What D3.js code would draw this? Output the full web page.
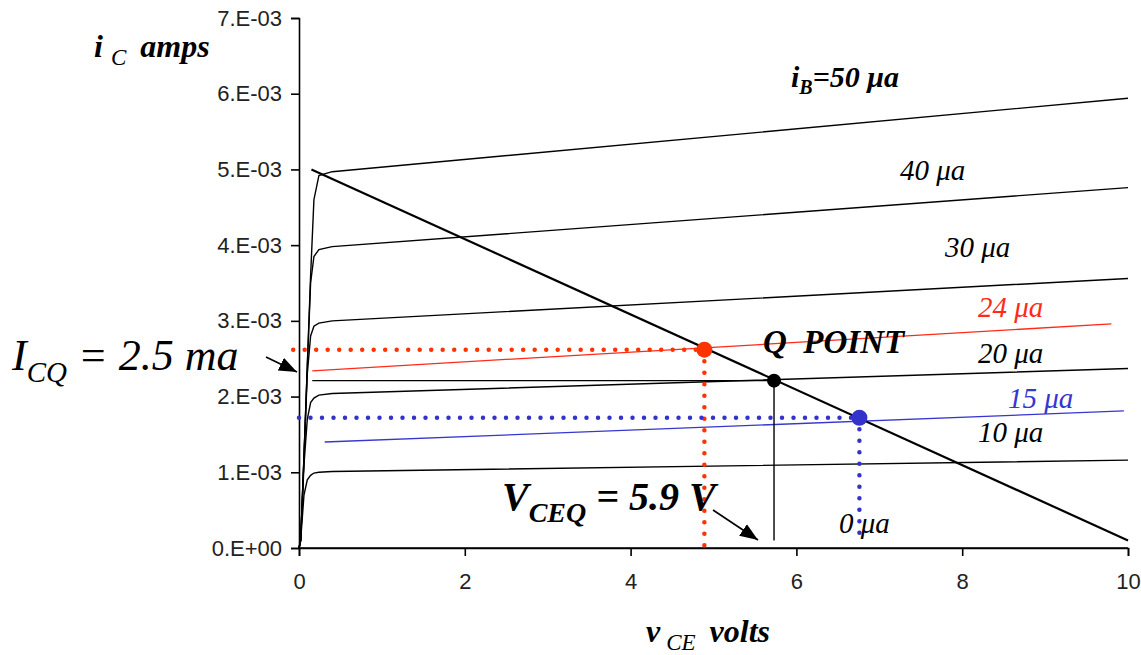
<!DOCTYPE html>
<html>
<head>
<meta charset="utf-8">
<script src="https://cdn.jsdelivr.net/npm/d3@7"></script>
<style>
  body { margin: 0; background: #fff; }
  svg { display: block; }
  .tick text { font-family: "Liberation Sans", Arial, sans-serif; font-size: 22px; fill: #222; }
  .lbl { font-family: "Liberation Serif", "Times New Roman", serif; font-style: italic; }
</style>
</head>
<body>
<div id="chart"></div>
<script>
const width = 1141, height = 655;

// collector-emitter voltage samples shared by the iB curves (volts)
const vce = [0, 0.02, 0.06, 0.1, 0.14, 0.18, 0.24, 0.4, 10];
// collector current, mA, one array per base current
const ib50 = [0, 0.1, 1.2, 2.4, 3.6, 4.6, 4.92, 4.97, 5.94];
const ib40 = [0, 0.1, 1.2, 2.4, 3.5, 3.85, 3.94, 3.98, 4.76];
const ib30 = [0, 0.1, 1.2, 2.3, 2.8, 2.93, 2.97, 3.0, 3.56];
const ib20 = [0, 0.1, 1.1, 1.7, 1.92, 1.98, 2.02, 2.04, 2.37];
const ib10 = [0, 0.1, 0.7, 0.9, 0.96, 0.99, 1.0, 1.01, 1.16];
const ib0  = [0, 0, 0, 0, 0, 0, 0, 0, 0];

// straight-line curves for 24 and 15 µa  [vce, mA]
const ib24 = [[0.16, 2.34], [9.8, 2.96]];
const ib15 = [[0.31, 1.40], [9.95, 1.81]];
// load line
const loadLine = [[0.15, 5.0], [10, 0.1]];

// operating points [vce, mA]
const qPoint = [5.73, 2.21];
const redPoint = [4.89, 2.62];
const bluePoint = [6.76, 1.72];

const xTicks = [0, 2, 4, 6, 8, 10];
const yTicks = [0, 1, 2, 3, 4, 5, 6, 7];
const yTickLabels = ["0.E+00", "1.E-03", "2.E-03", "3.E-03", "4.E-03", "5.E-03", "6.E-03", "7.E-03"];

const x = d3.scaleLinear().domain([0, 10]).range([299, 1128]);
const y = d3.scaleLinear().domain([0, 7]).range([548, 18]);

const svg = d3.select("#chart").append("svg")
    .attr("width", width)
    .attr("height", height);

svg.append("defs").append("marker")
    .attr("id", "arrow")
    .attr("markerUnits", "userSpaceOnUse")
    .attr("markerWidth", 20)
    .attr("markerHeight", 20)
    .attr("viewBox", "0 0 20 20")
    .attr("refX", 18)
    .attr("refY", 10)
    .attr("orient", "auto")
    .append("path")
    .attr("d", "M0,3L18,10L0,17Z")
    .attr("fill", "#000");

// axes
svg.append("g")
    .attr("transform", `translate(0,${y(0)})`)
    .call(d3.axisBottom(x).tickValues(xTicks).tickSize(8).tickPadding(17).tickFormat(d3.format("d")))
    .call(g => g.select(".domain").attr("stroke-width", 1.6))
    .call(g => g.selectAll(".tick line").attr("stroke-width", 1.6));

svg.append("g")
    .attr("transform", `translate(${x(0)},0)`)
    .call(d3.axisLeft(y).tickValues(yTicks).tickSize(8).tickPadding(9).tickFormat((d, i) => yTickLabels[i]))
    .call(g => g.select(".domain").attr("stroke-width", 1.6))
    .call(g => g.selectAll(".tick line").attr("stroke-width", 1.6));

const line = d3.line().x(d => x(d[0])).y(d => y(d[1]));

// iB family
const curves = [ib50, ib40, ib30, ib20, ib10, ib0];
svg.append("g")
    .selectAll("path")
    .data(curves)
    .join("path")
    .attr("d", c => line(c.map((v, i) => [vce[i], v])))
    .attr("fill", "none")
    .attr("stroke", "#000")
    .attr("stroke-width", 1.4);

svg.append("path").attr("d", line(ib24))
    .attr("fill", "none").attr("stroke", "#ff2a1a").attr("stroke-width", 1.3);
svg.append("path").attr("d", line(ib15))
    .attr("fill", "none").attr("stroke", "#3636d0").attr("stroke-width", 1.3);

// Q point guides
svg.append("path").attr("d", line([[0.16, qPoint[1]], qPoint]))
    .attr("fill", "none").attr("stroke", "#000").attr("stroke-width", 1.4);
svg.append("path").attr("d", line([qPoint, [qPoint[0], 0.1]]))
    .attr("fill", "none").attr("stroke", "#000").attr("stroke-width", 1.4);

// dotted guides
const dotted = (pts, color) => svg.append("path")
    .attr("d", line(pts))
    .attr("fill", "none")
    .attr("stroke", color)
    .attr("stroke-width", 4.5)
    .attr("stroke-linecap", "round")
    .attr("stroke-dasharray", "0 11.5");
dotted([[-0.07, redPoint[1]], redPoint], "#ff3300");
dotted([redPoint, [redPoint[0], 0]], "#ff3300");
dotted([[0, bluePoint[1]], bluePoint], "#3333cc");
dotted([bluePoint, [bluePoint[0], 0.1]], "#3333cc");

// load line
svg.append("path").attr("d", line(loadLine))
    .attr("fill", "none").attr("stroke", "#000").attr("stroke-width", 2.2);

// points
svg.append("circle").attr("cx", x(redPoint[0])).attr("cy", y(redPoint[1])).attr("r", 8).attr("fill", "#ff3300");
svg.append("circle").attr("cx", x(qPoint[0])).attr("cy", y(qPoint[1])).attr("r", 7).attr("fill", "#000");
svg.append("circle").attr("cx", x(bluePoint[0])).attr("cy", y(bluePoint[1])).attr("r", 8).attr("fill", "#3333cc");

// axis titles
const yTitle = svg.append("text").attr("class", "lbl").attr("x", 94).attr("y", 57)
    .attr("font-size", 32).attr("font-weight", "bold");
yTitle.append("tspan").text("i");
yTitle.append("tspan").attr("dx", 8).attr("dy", 8).attr("font-size", 23).attr("font-weight", "normal").text("C");
yTitle.append("tspan").attr("dx", 14).attr("dy", -8).text("amps");

const xTitle = svg.append("text").attr("class", "lbl").attr("x", 646).attr("y", 642)
    .attr("font-size", 32).attr("font-weight", "bold");
xTitle.append("tspan").text("v");
xTitle.append("tspan").attr("dx", 6).attr("dy", 8).attr("font-size", 23).attr("font-weight", "normal").text("CE");
xTitle.append("tspan").attr("dx", 14).attr("dy", -8).text("volts");

// curve labels
const curveLabels = [
    { t: "40 μa", x: 900, y: 180, c: "#000" },
    { t: "30 μa", x: 945, y: 257, c: "#000" },
    { t: "24 μa", x: 978, y: 317, c: "#ff2a1a" },
    { t: "20 μa", x: 978, y: 363, c: "#000" },
    { t: "15 μa", x: 1008, y: 408, c: "#3636d0" },
    { t: "10 μa", x: 978, y: 442, c: "#000" },
    { t: "0 μa", x: 839, y: 533, c: "#000" }
];
svg.append("g").selectAll("text").data(curveLabels).join("text")
    .attr("class", "lbl")
    .attr("x", d => d.x).attr("y", d => d.y)
    .attr("font-size", 29)
    .attr("fill", d => d.c)
    .text(d => d.t);

const ibLabel = svg.append("text").attr("class", "lbl").attr("x", 791).attr("y", 87)
    .attr("font-size", 30).attr("font-weight", "bold");
ibLabel.append("tspan").text("i");
ibLabel.append("tspan").attr("dy", 7).attr("font-size", 20).text("B");
ibLabel.append("tspan").attr("dy", -7).text("=50 μa");

svg.append("text").attr("class", "lbl").attr("x", 763).attr("y", 353)
    .attr("font-size", 33).attr("font-weight", "bold")
    .attr("xml:space", "preserve").style("white-space", "pre")
    .text("Q  POINT");

// ICQ annotation
const icq = svg.append("text").attr("class", "lbl").attr("x", 12).attr("y", 370)
    .attr("font-size", 44).attr("font-style", "normal");
icq.append("tspan").attr("font-style", "italic").text("I");
icq.append("tspan").attr("font-style", "italic").attr("font-size", 29).attr("dy", 12).text("CQ");
icq.append("tspan").attr("dy", -12).text(" = 2.5 ");
icq.append("tspan").attr("font-style", "italic").text("ma");
svg.append("line").attr("x1", 266).attr("y1", 357).attr("x2", 297).attr("y2", 372)
    .attr("stroke", "#000").attr("stroke-width", 1.6).attr("marker-end", "url(#arrow)");

// VCEQ annotation
const vceq = svg.append("text").attr("class", "lbl").attr("x", 502).attr("y", 510)
    .attr("font-size", 40).attr("font-weight", "bold");
vceq.append("tspan").text("V");
vceq.append("tspan").attr("font-size", 28).attr("dy", 12).text("CEQ");
vceq.append("tspan").attr("dy", -12).text(" = 5.9 V");
svg.append("line").attr("x1", 713).attr("y1", 510).attr("x2", 758).attr("y2", 540)
    .attr("stroke", "#000").attr("stroke-width", 1.6).attr("marker-end", "url(#arrow)");
</script>
</body>
</html>
